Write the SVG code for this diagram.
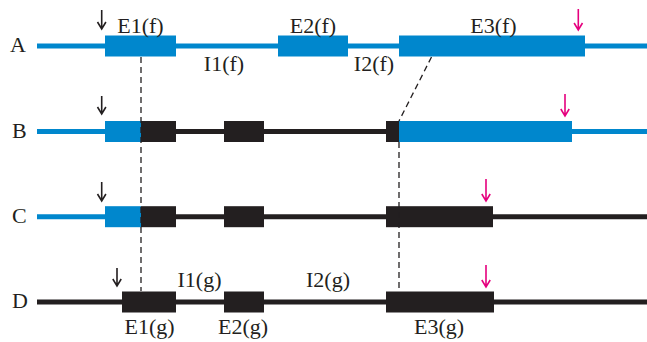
<svg xmlns="http://www.w3.org/2000/svg" width="647" height="342" viewBox="0 0 647 342">
<style>
.bl{fill:#0087cd}
.bk{fill:#231f20}
.lb{stroke:#0087cd;stroke-width:5;fill:none}
.lk{stroke:#231f20;stroke-width:5;fill:none}
.t{font-family:"Liberation Serif","Times New Roman",serif;font-size:22px;fill:#231f20}
.m{text-anchor:middle}
.ab{stroke:#231f20;stroke-width:1.6;fill:none}
.ap{stroke:#e5007e;stroke-width:1.6;fill:none}
.dash{stroke:#231f20;stroke-width:1.3;stroke-dasharray:6 4;fill:none}
</style>
<rect width="647" height="342" fill="#ffffff"/>
<g id="rowA">
<line class="lb" x1="37" y1="46" x2="647" y2="46"/>
<rect class="bl" x="105" y="35.5" width="71" height="21"/>
<rect class="bl" x="278" y="35.5" width="70" height="21"/>
<rect class="bl" x="399" y="35.5" width="186" height="21"/>
<text class="t" x="10" y="52">A</text>
<text class="t m" x="140.5" y="33">E1(f)</text>
<text class="t m" x="224" y="71">I1(f)</text>
<text class="t m" x="313" y="33">E2(f)</text>
<text class="t m" x="374" y="71">I2(f)</text>
<text class="t m" x="493.5" y="33">E3(f)</text>
<path class="ab" d="M101.7 10V29M97.5 22L101.7 29L105.9 22"/>
<path class="ap" d="M578.3 9V30M574.1 23L578.3 30L582.5 23"/>
</g>
<g id="rowB">
<line class="lb" x1="37" y1="131.5" x2="105" y2="131.5"/>
<line class="lk" x1="176" y1="131.5" x2="386" y2="131.5"/>
<line class="lb" x1="572" y1="131.5" x2="647" y2="131.5"/>
<rect class="bl" x="105" y="121" width="36" height="21"/>
<rect class="bk" x="141" y="121" width="35" height="21"/>
<rect class="bk" x="224" y="121" width="40" height="21"/>
<rect class="bk" x="386" y="121" width="13" height="21"/>
<rect class="bl" x="399" y="121" width="173" height="21"/>
<text class="t" x="12" y="137.5">B</text>
<path class="ab" d="M101.7 96V114M97.5 107L101.7 114L105.9 107"/>
<path class="ap" d="M565 94V116M560.8 109L565 116L569.2 109"/>
</g>
<g id="rowC">
<line class="lb" x1="37" y1="216.7" x2="105" y2="216.7"/>
<line class="lk" x1="176" y1="216.7" x2="647" y2="216.7"/>
<rect class="bl" x="105" y="206.2" width="36" height="21"/>
<rect class="bk" x="141" y="206.2" width="35" height="21"/>
<rect class="bk" x="224" y="206.2" width="40" height="21"/>
<rect class="bk" x="386" y="206.2" width="107" height="21"/>
<text class="t" x="12" y="222.7">C</text>
<path class="ab" d="M101.7 182V201M97.5 194L101.7 201L105.9 194"/>
<path class="ap" d="M486 179V201M481.8 194L486 201L490.2 194"/>
</g>
<g id="rowD">
<line class="lk" x1="37" y1="302" x2="647" y2="302"/>
<rect class="bk" x="122" y="291.5" width="54" height="21"/>
<rect class="bk" x="224" y="291.5" width="40" height="21"/>
<rect class="bk" x="386" y="291.5" width="108" height="21"/>
<text class="t" x="12" y="308">D</text>
<text class="t m" x="199.5" y="287">I1(g)</text>
<text class="t m" x="328" y="287">I2(g)</text>
<text class="t m" x="149.5" y="334">E1(g)</text>
<text class="t m" x="243" y="334">E2(g)</text>
<text class="t m" x="439" y="334">E3(g)</text>
<path class="ab" d="M117 268V286M112.8 279L117 286L121.2 279"/>
<path class="ap" d="M486 265V287M481.8 280L486 287L490.2 280"/>
</g>
<g id="connectors">
<line class="dash" x1="141" y1="57" x2="141" y2="291"/>
<line class="dash" x1="431.5" y1="57" x2="399" y2="121"/>
<line class="dash" x1="399" y1="142" x2="399" y2="291"/>
</g>
</svg>
